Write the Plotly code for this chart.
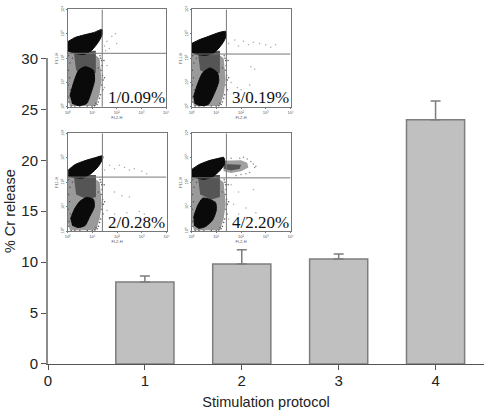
import plotly.graph_objects as go

W, H = 489, 415

# Main bar chart
protocols = [1, 2, 3, 4]
release = [8.05, 9.82, 10.3, 23.97]
release_err = [0.6, 1.4, 0.5, 1.85]
x_ticks = [0, 1, 2, 3, 4]
y_ticks = [0, 5, 10, 15, 20, 25, 30]

# Inset labels
labels = ["1/0.09%", "2/0.28%", "3/0.19%", "4/2.20%"]
decade_ticks = [0, 1, 2, 3, 4]
decade_labels = ["10⁰", "10¹", "10²", "10³", "10⁴"]

# Quadrant gates, in decades
gate_x = [1.41, 1.41, 1.41, 1.41]
gate_y = [2.2, 2.21, 2.17, 2.18]

# Dense populations: outlines, in decades
upper_x_1 = [0, .31, .65, 1.06, 1.40, 1.42, 1.26, .99, .65, .31, 0]
upper_y_1 = [2.67, 2.85, 2.95, 3.05, 3.18, 3.0, 2.67, 2.33, 2.15, 2.2, 2.3]
upper_x_2 = [.03, .3, .7, 1.1, 1.42, 1.42, 1.25, .95, .6, .25, .03]
upper_y_2 = [2.5, 2.72, 2.88, 3.0, 3.08, 2.95, 2.65, 2.35, 2.17, 2.2, 2.25]
upper_x_3 = [0, .3, .7, 1.1, 1.38, 1.4, 1.25, .95, .6, .25, 0]
upper_y_3 = [2.6, 2.75, 2.9, 3.05, 3.1, 2.9, 2.6, 2.25, 2.12, 2.15, 2.25]
upper_x_4 = [.02, .3, .7, 1.1, 1.3, 1.35, 1.15, .85, .5, .2, .02]
upper_y_4 = [2.53, 2.72, 2.88, 2.98, 3.02, 2.78, 2.48, 2.22, 2.12, 2.18, 2.22]

lower_x_1 = [.1, .25, .45, .72, 1.05, 1.1, .95, .78, .45, .18]
lower_y_1 = [.45, 1.0, 1.5, 1.65, 1.5, 1.1, .55, .14, .05, .15]
lower_x_2 = [.12, .28, .5, .78, 1.05, 1.08, .9, .7, .42, .18]
lower_y_2 = [.5, .9, 1.22, 1.38, 1.3, .98, .6, .22, .15, .25]
lower_x_3 = [.08, .25, .45, .75, 1.05, 1.1, .9, .68, .35, .12]
lower_y_3 = [.4, .95, 1.4, 1.6, 1.4, 1.05, .5, .1, .05, .15]
lower_x_4 = [.08, .25, .45, .75, .98, 1.0, .85, .55, .3, .1]
lower_y_4 = [.55, 1.05, 1.35, 1.3, 1.15, .85, .45, .18, .12, .25]

# Scattered mid population, in decades
mid_x = [0, .9, 1.3, 1.38, 1.3, 1.15, .1, 0]
mid_y = [2.5, 2.3, 2.0, 1.1, .5, .04, .04, .4]
# Denser column joining the two populations
bridge_x = [.25, 1.15, 1.15, .8, .35]
bridge_y = [2.3, 2.3, 1.4, 1.3, 1.5]
# Loose dots along the edge of the mid population
edge_x = [.05, .1, .04, .08, .03, .12, .06, .05, 1.32, 1.38, 1.4, 1.36, 1.42, 1.45, 1.39, 1.44, 1.34,
          1.3, 1.25, 1.2, .15, .3, .5, .8, 1.0, 1.1, .2, .6, .95, 1.25, 1.48, 1.5, 1.35, 1.15]
edge_y = [2.1, 1.8, 1.5, 1.2, .9, .7, .4, .2, 2.1, 1.9, 1.7, 1.5, 1.3, 1.1, .9, .7, .5,
          .35, .2, .1, .02, .03, .02, .03, .02, .05, 2.0, 1.75, 1.2, 1.6, 1.9, 1.2, 2.0, .15]

# Activated tail of plot 4
tail_x = [1.28, 1.7, 2.0, 2.25, 2.3, 2.0, 1.6, 1.3]
tail_y = [2.88, 2.88, 2.9, 2.8, 2.6, 2.45, 2.38, 2.45]
tail_core_x = [1.3, 1.7, 2.0, 1.95, 1.6, 1.3]
tail_core_y = [2.75, 2.75, 2.72, 2.55, 2.48, 2.55]
tail_dots_x = [1.95, 2.1, 2.25, 2.4, 2.5, 2.55, 2.35, 2.0, 1.8, 2.2, 2.6, 1.6]
tail_dots_y = [2.98, 3.02, 2.95, 2.85, 2.75, 2.6, 2.4, 2.32, 2.28, 2.35, 2.65, 2.98]

# Sparse events in the right-hand quadrants
sparse_x_1 = [1.5, 1.6, 1.7, 1.8, 1.95, 2.0, 1.6, 1.5, 1.55]
sparse_y_1 = [2.5, 2.7, 2.4, 2.9, 3.0, 2.6, 1.7, .8, 2.3]
sparse_x_2 = [1.5, 1.7, 1.9, 2.1, 2.3, 2.5, 2.7, 3.0, 3.2, 1.9, 2.2, 2.5, 1.6, 1.9, 2.4, 2.9, 3.1]
sparse_y_2 = [2.5, 2.7, 2.55, 2.7, 2.6, 2.5, 2.55, 2.45, 2.35, 1.6, 1.45, 1.4, .85, .7, .75, .8, .7]
sparse_x_3 = [1.5, 1.75, 1.9, 2.1, 2.3, 2.5, 2.75, 3.0, 3.2, 3.4, 2.4, 2.55, 1.6, 1.85, 2.0, 2.35]
sparse_y_3 = [2.6, 2.75, 2.5, 2.7, 2.55, 2.65, 2.6, 2.55, 2.45, 2.55, 1.65, 1.55, 1.0, .8, .7, .9]
sparse_x_4 = [1.6, 1.9, 2.5, 1.7, 2.2, 2.6, 1.5, 1.9]
sparse_y_4 = [1.9, 1.6, 1.7, 1.1, .95, .75, .5, .7]

# Pixel boxes of the plots (left, right, top, bottom)
main_box = (48, 484, 58.5, 364.5)
inset_boxes = [(67.5, 166, 9.5, 107), (67.5, 166.5, 133.5, 231.5),
               (191.5, 290.5, 9.5, 107), (191.5, 290.5, 133.5, 231.5)]

uppers = [(upper_x_1, upper_y_1), (upper_x_2, upper_y_2), (upper_x_3, upper_y_3), (upper_x_4, upper_y_4)]
lowers = [(lower_x_1, lower_y_1), (lower_x_2, lower_y_2), (lower_x_3, lower_y_3), (lower_x_4, lower_y_4)]
sparses = [(sparse_x_1, sparse_y_1), (sparse_x_2, sparse_y_2), (sparse_x_3, sparse_y_3), (sparse_x_4, sparse_y_4)]

AX = "#8c8c8c"
SANS = "Liberation Sans"
fig = go.Figure()

# The plot area runs from the left axis to the right end of the x axis,
# and from the top of the page to the x axis, so the axis titles sit in the margins.
ml, mr, mb = main_box[0], W - main_box[1], H - main_box[3]
pw, ph = W - ml - mr, H - mb


def dom_x(a, b):
    return [(a - ml) / pw, (b - ml) / pw]


def dom_y(top, bottom):
    return [1 - bottom / ph, 1 - top / ph]


def patch(xs, ys, xref, yref, color):
    return go.Scatter(
        x=xs, y=ys, xaxis=xref, yaxis=yref, mode="lines", line=dict(width=0),
        fill="toself", fillcolor=color, hoverinfo="skip")


def dots(xs, ys, xref, yref, color, size):
    return go.Scatter(
        x=xs, y=ys, xaxis=xref, yaxis=yref, mode="markers",
        marker=dict(color=color, size=size), hoverinfo="skip")


fig.add_trace(go.Bar(
    x=protocols, y=release, width=0.6,
    marker=dict(color="#c0c0c0", line=dict(color="#7d7d7d", width=1.5)),
    error_y=dict(type="data", symmetric=False, array=release_err,
                 arrayminus=[0, 0, 0, 0], color="#7d7d7d", thickness=1.5, width=5),
))

layout = dict(
    width=W, height=H, margin=dict(l=ml, r=mr, t=0, b=mb, pad=0),
    paper_bgcolor="white", plot_bgcolor="rgba(0,0,0,0)", showlegend=False,
    font=dict(family=SANS, color="#222222"),
    xaxis=dict(domain=dom_x(main_box[0], main_box[1]), range=[0, 4.5], tickvals=x_ticks, automargin=False,
               ticks="outside", ticklen=5, tickcolor="#555555", showline=True, linecolor="#555555",
               linewidth=1, showgrid=False, zeroline=False, tickfont=dict(size=15), ticklabelstandoff=-2,
               title=dict(text="Stimulation protocol", font=dict(size=14.5), standoff=8)),
    yaxis=dict(domain=dom_y(main_box[2], main_box[3]), range=[0, 30], tickvals=y_ticks, automargin=False,
               ticks="outside", ticklen=5, tickcolor="#555555", showline=True, linecolor=AX,
               linewidth=2, showgrid=False, zeroline=False, tickfont=dict(size=15),
               title=dict(text="% Cr release", font=dict(size=14.5), standoff=2)),
    annotations=[],
)

for i, box in enumerate(inset_boxes):
    n = i + 2
    xref, yref = f"x{n}", f"y{n}"
    l, r, t, b = box
    layout[f"xaxis{n}"] = dict(
        domain=dom_x(l, r), range=[0, 4], anchor=yref, tickvals=decade_ticks, ticktext=decade_labels,
        automargin=False, ticks="outside", ticklen=1, tickwidth=0.5, tickcolor="#777777", showline=True,
        mirror=True, linecolor="#777777", linewidth=1, showgrid=False, zeroline=False,
        tickfont=dict(size=4, color="#555555"),
        title=dict(text="FL2-H", font=dict(size=4, color="#555555"), standoff=1))
    layout[f"yaxis{n}"] = dict(
        domain=dom_y(t, b), range=[0, 4], anchor=xref, tickvals=decade_ticks, ticktext=decade_labels,
        automargin=False, ticks="outside", ticklen=1, tickwidth=0.5, tickcolor="#777777", showline=True,
        mirror=True, linecolor="#777777", linewidth=1, showgrid=False, zeroline=False, tickangle=-90,
        tickfont=dict(size=4, color="#555555"),
        title=dict(text="FL1-H", font=dict(size=4, color="#555555"), standoff=1))

    fig.add_trace(patch(mid_x, mid_y, xref, yref, "#9a9a9a"))
    fig.add_trace(patch(bridge_x, bridge_y, xref, yref, "#555555"))
    fig.add_trace(dots(edge_x, edge_y, xref, yref, "#555555", 1.5))
    if i == 3:
        fig.add_trace(patch(tail_x, tail_y, xref, yref, "#a0a0a0"))
        fig.add_trace(patch(tail_core_x, tail_core_y, xref, yref, "#555555"))
        fig.add_trace(dots(tail_dots_x, tail_dots_y, xref, yref, "#888888", 1.5))
    for xs, ys in (uppers[i], lowers[i]):
        fig.add_trace(go.Scatter(
            x=xs, y=ys, xaxis=xref, yaxis=yref, mode="lines", fill="toself", fillcolor="#0a0a0a",
            line=dict(color="#0a0a0a", width=1, shape="spline", smoothing=0.6), hoverinfo="skip"))
    fig.add_trace(dots(sparses[i][0], sparses[i][1], xref, yref, "#aaaaaa", 1.5))
    fig.add_trace(go.Scatter(
        x=[gate_x[i], gate_x[i]], y=[0, 4], xaxis=xref, yaxis=yref, mode="lines",
        line=dict(color="#777777", width=1), hoverinfo="skip"))
    fig.add_trace(go.Scatter(
        x=[0, 4], y=[gate_y[i], gate_y[i]], xaxis=xref, yaxis=yref, mode="lines",
        line=dict(color="#777777", width=1), hoverinfo="skip"))
    layout["annotations"].append(dict(
        x=3.98, y=0, yshift=-1.5, xref=xref, yref=yref, xanchor="right", yanchor="bottom", showarrow=False,
        text=labels[i], font=dict(family="Liberation Serif", size=17, color="#111111"),
        borderpad=0, bgcolor="rgba(255,255,255,0)"))

fig.update_layout(**layout)
fig.write_html("out.html", config=dict(displayModeBar=False),
               post_script="document.body.style.margin='0';document.documentElement.style.overflow='hidden';")
